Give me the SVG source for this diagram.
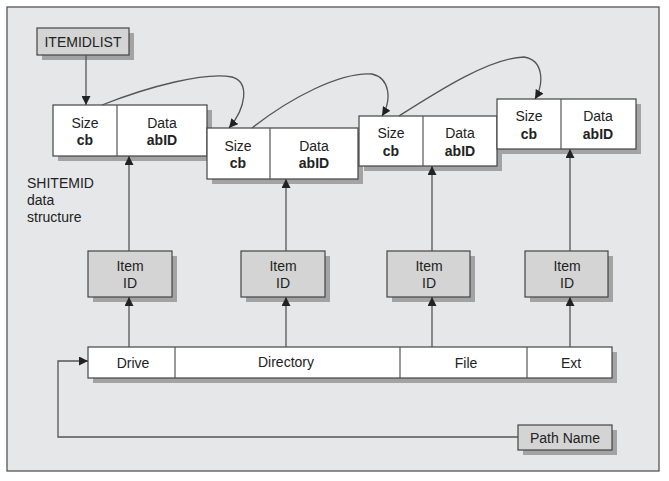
<svg xmlns="http://www.w3.org/2000/svg" width="669" height="481" viewBox="0 0 669 481">
<defs>
<style>
text{font-family:"Liberation Sans",Arial,sans-serif;font-size:14px;fill:#222;text-anchor:middle}
.b{font-weight:bold}
.l{text-anchor:start}
.box{fill:#fff;stroke:#444;stroke-width:1.2}
.gbox{fill:#d4d4d4;stroke:#444;stroke-width:1.2}
.sh{fill:#a3a3a3}
.ln{fill:none;stroke:#555;stroke-width:1.3}
.dv{stroke:#555;stroke-width:1.2}
</style>
<marker id="ah" viewBox="0 0 10 10" refX="10" refY="5" markerWidth="9" markerHeight="9" markerUnits="userSpaceOnUse" orient="auto">
<path d="M0,0 L10,5 L0,10 Z" fill="#222"/>
</marker>
</defs>
<rect x="7" y="7" width="652" height="464" fill="#e6e7e9" stroke="#555" stroke-width="1.3"/>

<g id="itemidlist">
<rect class="sh" x="42" y="33" width="92" height="27"/>
<rect class="gbox" x="37" y="28" width="92" height="27"/>
<text x="83" y="47">ITEMIDLIST</text>
</g>

<g id="shitemid1">
<rect class="sh" x="58" y="110" width="154" height="51"/>
<rect class="box" x="53" y="105" width="154" height="51"/>
<line class="dv" x1="117" y1="105" x2="117" y2="156"/>
<text x="85" y="128">Size</text><text class="b" x="85" y="145">cb</text>
<text x="162" y="128">Data</text><text class="b" x="162" y="145">abID</text>
</g>
<g id="shitemid2">
<rect class="sh" x="212" y="133" width="151" height="51"/>
<rect class="box" x="207" y="128" width="151" height="51"/>
<line class="dv" x1="270" y1="128" x2="270" y2="179"/>
<text x="238" y="151">Size</text><text class="b" x="238" y="168">cb</text>
<text x="314" y="151">Data</text><text class="b" x="314" y="168">abID</text>
</g>
<g id="shitemid3">
<rect class="sh" x="364" y="121" width="138" height="50"/>
<rect class="box" x="359" y="116" width="138" height="50"/>
<line class="dv" x1="423" y1="116" x2="423" y2="166"/>
<text x="391" y="138">Size</text><text class="b" x="391" y="156">cb</text>
<text x="460" y="138">Data</text><text class="b" x="460" y="156">abID</text>
</g>
<g id="shitemid4">
<rect class="sh" x="502" y="104" width="139" height="50"/>
<rect class="box" x="497" y="99" width="139" height="50"/>
<line class="dv" x1="561" y1="99" x2="561" y2="149"/>
<text x="529" y="121">Size</text><text class="b" x="529" y="139">cb</text>
<text x="598" y="121">Data</text><text class="b" x="598" y="139">abID</text>
</g>

<g id="label">
<text class="l" x="27" y="188">SHITEMID</text>
<text class="l" x="27" y="205">data</text>
<text class="l" x="27" y="222">structure</text>
</g>

<g id="itemid1">
<rect class="sh" x="93" y="256" width="84" height="46"/>
<rect class="gbox" x="88" y="251" width="84" height="46"/>
<text x="130" y="271">Item</text><text x="130" y="288">ID</text>
</g>
<g id="itemid2">
<rect class="sh" x="246" y="256" width="84" height="46"/>
<rect class="gbox" x="241" y="251" width="84" height="46"/>
<text x="283" y="271">Item</text><text x="283" y="288">ID</text>
</g>
<g id="itemid3">
<rect class="sh" x="392" y="256" width="83" height="46"/>
<rect class="gbox" x="387" y="251" width="83" height="46"/>
<text x="429" y="271">Item</text><text x="429" y="288">ID</text>
</g>
<g id="itemid4">
<rect class="sh" x="530" y="256" width="83" height="46"/>
<rect class="gbox" x="525" y="251" width="83" height="46"/>
<text x="567" y="271">Item</text><text x="567" y="288">ID</text>
</g>

<g id="pathbar">
<rect class="sh" x="93" y="352" width="524" height="31"/>
<rect class="box" x="88" y="347" width="524" height="31"/>
<line class="dv" x1="175" y1="347" x2="175" y2="378"/>
<line class="dv" x1="400" y1="347" x2="400" y2="378"/>
<line class="dv" x1="527" y1="347" x2="527" y2="378"/>
<text x="133" y="368">Drive</text>
<text x="286" y="367">Directory</text>
<text x="466" y="368">File</text>
<text x="571" y="368">Ext</text>
</g>

<g id="pathname">
<rect class="sh" x="523" y="430" width="94" height="25"/>
<rect class="gbox" x="518" y="425" width="94" height="25"/>
<text x="565" y="443">Path Name</text>
</g>

<g id="connectors">
<line class="ln" x1="86" y1="55" x2="86" y2="105" marker-end="url(#ah)"/>
<path class="ln" d="M102,105 C150,86 205,72 232,77 C250,82 246,108 229,128" marker-end="url(#ah)"/>
<path class="ln" d="M252,128 C290,98 340,72 372,74 C390,78 392,100 382,116" marker-end="url(#ah)"/>
<path class="ln" d="M399,116 C440,90 490,58 524,57 C544,60 544,84 535,99" marker-end="url(#ah)"/>
<line class="ln" x1="129" y1="251" x2="129" y2="156" marker-end="url(#ah)"/>
<line class="ln" x1="286" y1="251" x2="286" y2="179" marker-end="url(#ah)"/>
<line class="ln" x1="432" y1="251" x2="432" y2="166" marker-end="url(#ah)"/>
<line class="ln" x1="570" y1="251" x2="570" y2="149" marker-end="url(#ah)"/>
<line class="ln" x1="129" y1="347" x2="129" y2="297" marker-end="url(#ah)"/>
<line class="ln" x1="286" y1="347" x2="286" y2="297" marker-end="url(#ah)"/>
<line class="ln" x1="432" y1="347" x2="432" y2="297" marker-end="url(#ah)"/>
<line class="ln" x1="570" y1="347" x2="570" y2="297" marker-end="url(#ah)"/>
<polyline class="ln" points="518,437 58,437 58,361 88,361" marker-end="url(#ah)"/>
</g>
</svg>
